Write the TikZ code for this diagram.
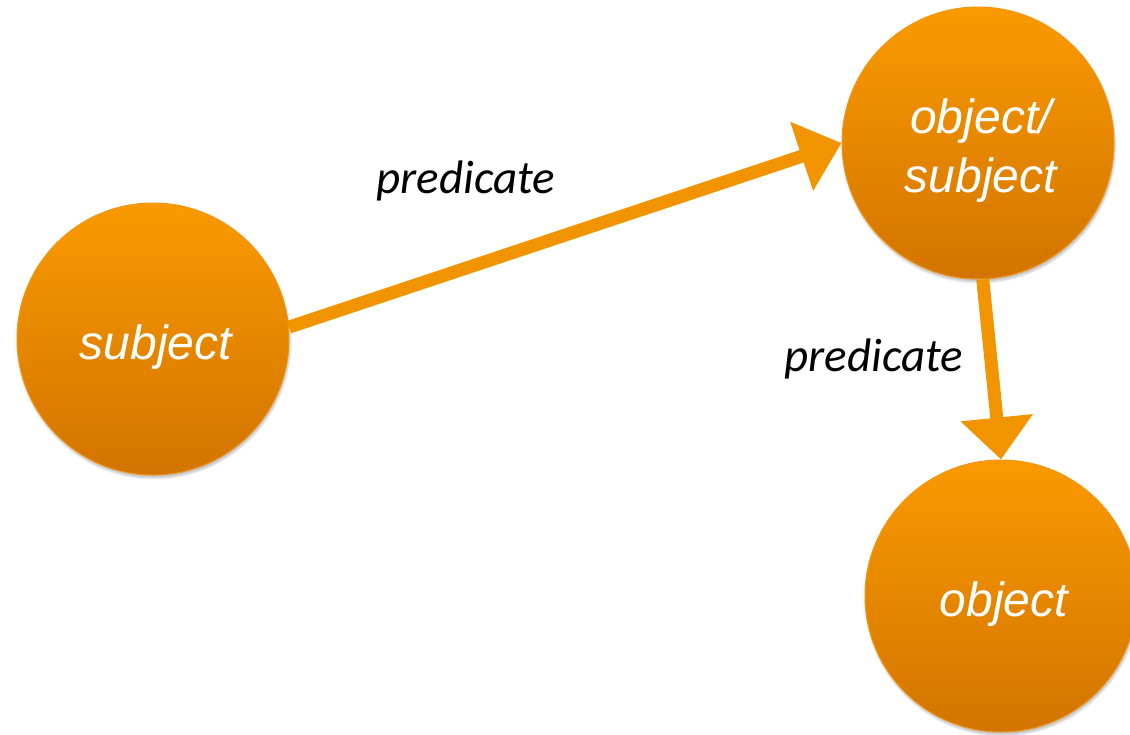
\documentclass[tikz,border=0pt]{standalone}
\usepackage{fontspec}
\setmainfont{Liberation Sans}
\newfontfamily\labelfont{Carlito}
\usetikzlibrary{arrows.meta,shadows.blur}

\definecolor{orangetop}{RGB}{250,154,0}
\definecolor{orangebot}{RGB}{210,116,0}
\definecolor{orangeedge}{RGB}{240,150,20}
\definecolor{arrowcol}{RGB}{241,148,0}

\tikzset{
  resource/.style={
    circle, minimum size=272pt, inner sep=0pt,
    top color=orangetop, bottom color=orangebot,
    draw=orangeedge, line width=1pt,
    blur shadow={shadow xshift=1pt, shadow yshift=-3pt,
                 shadow blur steps=6, shadow opacity=25},
    label={[restext]center:#1}
  },
  restext/.style={
    text=white, align=center, xshift=3pt, yshift=-8pt,
    font=\fontsize{48}{59}\selectfont\itshape
  },
  relation/.style={
    draw=arrowcol, line width=13pt,
    -{Triangle[length=42pt,width=70pt]}
  },
  predlabel/.style={
    text=black, font=\labelfont\fontsize{47}{52}\selectfont\itshape
  }
}

\begin{document}
\begin{tikzpicture}[x=1pt,y=-1pt]
  \useasboundingbox (0,0) rectangle (1130,734);
  \clip (0,0) rectangle (1130,734);

  % resources
  \node[resource={subject}] (subj) at (153,339) {};
  \node[resource={object/\\subject}] (os) at (978,143) {};
  \node[resource={object}] (obj) at (1001,596) {};

  % predicates
  \draw[relation] (subj.5) -- (os.west);
  \draw[relation] (os.-88) -- (obj.north);

  % predicate labels
  \node[predlabel] (p1) at (466,181) {predicate};
  \node[predlabel] (p2) at (874,359) {predicate};
\end{tikzpicture}
\end{document}
